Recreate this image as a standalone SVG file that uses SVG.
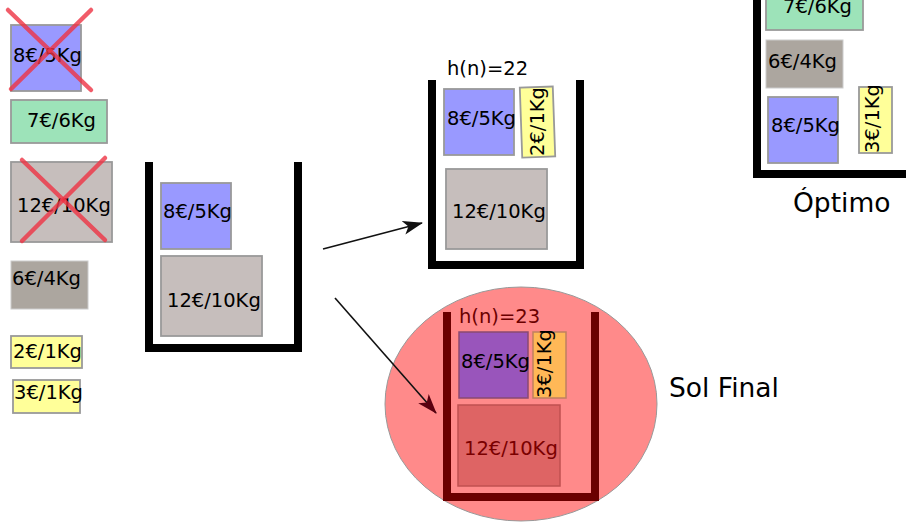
<svg xmlns="http://www.w3.org/2000/svg" width="906" height="522" viewBox="0 0 906 522">
<defs>
<style>
text{font-family:"DejaVu Sans","Liberation Sans",sans-serif;font-size:19.5px;fill:#000}
.big{font-size:26.5px}
.box{stroke:#999;stroke-width:1.8}
.blue{fill:#9999ff}
.green{fill:#9de3b9}
.tan{fill:#c6bebc}
.gray{fill:#aca69f}
.yel{fill:#ffff99}
.bin{fill:none;stroke:#000;stroke-width:8}
.cross{stroke:#ee3344;stroke-opacity:0.8;stroke-width:4.5;stroke-linecap:round}
.conn{fill:none;stroke:#111;stroke-width:1.6}
</style>
<marker id="ah" viewBox="0 0 20 14" refX="19" refY="7" markerWidth="20" markerHeight="14" markerUnits="userSpaceOnUse" orient="auto">
<path d="M0,0 L20,7 L0,14 L5,7 Z" fill="#111"/>
</marker>
<marker id="ah2" viewBox="0 0 20 14" refX="19" refY="7" markerWidth="20" markerHeight="14" markerUnits="userSpaceOnUse" orient="auto">
<path d="M0,0 L20,7 L0,14 L5,7 Z" fill="#5a0010"/>
</marker>
</defs>
<rect width="906" height="522" fill="#fff"/>

<g id="items">
<g id="item-8-5"><rect class="box blue" x="11" y="25" width="70" height="66"/><text x="13" y="62">8€/5Kg</text>
<line class="cross" x1="8" y1="10" x2="91" y2="90"/><line class="cross" x1="91" y1="10" x2="11" y2="89"/></g>
<g id="item-7-6"><rect class="box green" x="11" y="100" width="96" height="43"/><text x="27" y="127">7€/6Kg</text></g>
<g id="item-12-10"><rect class="box tan" x="11" y="162" width="101" height="80"/><text x="17" y="212">12€/10Kg</text>
<line class="cross" x1="22" y1="160" x2="105" y2="240"/><line class="cross" x1="105" y1="158" x2="22" y2="241"/></g>
<g id="item-6-4"><rect class="gray" x="11" y="261" width="77" height="48" stroke="#ccc" stroke-width="1"/><text x="12" y="285">6€/4Kg</text></g>
<g id="item-2-1"><rect class="box yel" x="11" y="336" width="71" height="32"/><text x="13" y="358">2€/1Kg</text></g>
<g id="item-3-1"><rect class="box yel" x="13" y="380" width="67" height="33"/><text x="14" y="399">3€/1Kg</text></g>
</g>

<g id="bin-start">
<path class="bin" d="M149,162 V348 H298 V162"/>
<rect class="box blue" x="161" y="183" width="70" height="66"/><text x="163" y="218">8€/5Kg</text>
<rect class="box tan" x="161" y="256" width="101" height="80"/><text x="167" y="307">12€/10Kg</text>
</g>

<g id="bin-h22">
<text x="447" y="75">h(n)=22</text>
<path class="bin" d="M432,80 V265 H580 V80"/>
<rect class="box blue" x="444" y="89" width="70" height="66"/><text x="447" y="125">8€/5Kg</text>
<g transform="rotate(-2 538 122)"><rect class="box yel" x="521" y="87" width="33" height="70"/></g>
<text transform="translate(544,156) rotate(-90)">2€/1Kg</text>
<rect class="box tan" x="446" y="169" width="101" height="80"/><text x="452" y="218">12€/10Kg</text>
</g>

<g id="sol-final">
<ellipse cx="521" cy="404" rx="136" ry="117" fill="#ff8a8a" stroke="#999" stroke-width="1"/>
<text x="459" y="323" style="fill:#6b0000">h(n)=23</text>
<path class="bin" style="stroke:#6b0000" d="M447,312 V497 H595 V312"/>
<rect x="459" y="332" width="69" height="66" fill="#9955bb" stroke="#8a4a70" stroke-width="1.5"/><text x="461" y="368">8€/5Kg</text>
<rect x="533" y="332" width="33" height="66" fill="#ffb857" stroke="#c08060" stroke-width="1.5"/>
<text transform="translate(551,398) rotate(-90)">3€/1Kg</text>
<rect x="458" y="405" width="102" height="81" fill="#de6464" stroke="#c05050" stroke-width="1.5"/><text x="464" y="455" style="fill:#7a0000">12€/10Kg</text>
<text class="big" x="669" y="397">Sol Final</text>
</g>

<g id="connectors">
<line class="conn" x1="323" y1="249" x2="422" y2="223" marker-end="url(#ah)"/>
<line class="conn" x1="335" y1="298" x2="436" y2="413" marker-end="url(#ah2)"/>
</g>

<g id="bin-optimo">
<path class="bin" d="M757,-10 V174 H915"/>
<rect class="box green" x="766" y="-20" width="97" height="50"/><text x="783" y="13">7€/6Kg</text>
<rect class="gray" x="766" y="40" width="77" height="48" stroke="#ccc" stroke-width="1"/><text x="768" y="68">6€/4Kg</text>
<rect class="box blue" x="768" y="97" width="70" height="66"/><text x="771" y="132">8€/5Kg</text>
<rect class="box yel" x="859" y="87" width="33" height="66"/>
<text transform="translate(879,153) rotate(-90)">3€/1Kg</text>
<text class="big" x="793" y="212">Óptimo</text>
</g>
</svg>
